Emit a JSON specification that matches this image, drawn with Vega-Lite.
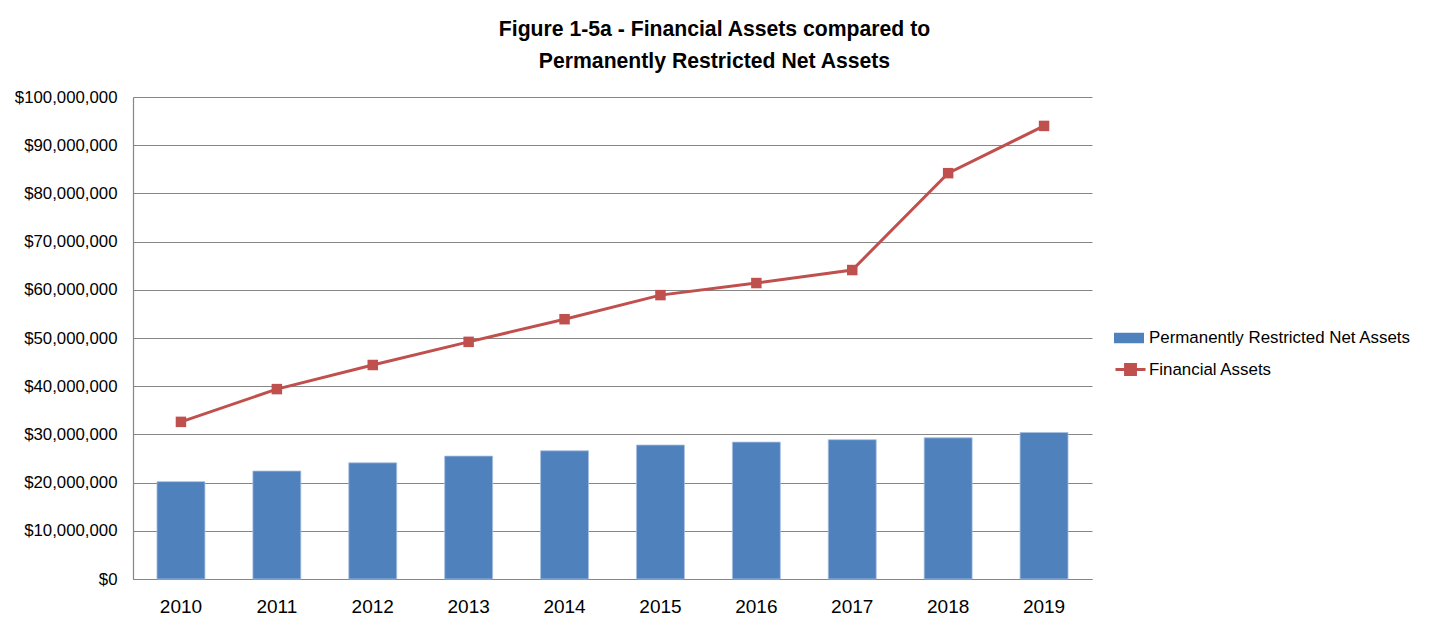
{
  "$schema": "https://vega.github.io/schema/vega-lite/v6.json",
  "width": 959,
  "height": 482,
  "autosize": {"type": "none"},
  "padding": {"left": 133, "top": 97, "right": 338, "bottom": 47},
  "background": "white",
  "title": {
    "text": ["Figure 1-5a - Financial Assets compared to", "Permanently Restricted Net Assets"],
    "font": "Liberation Sans",
    "fontSize": 21.2,
    "fontWeight": "bold",
    "color": "#000000",
    "anchor": "middle",
    "dx": 102,
    "offset": 17,
    "lineHeight": 32
  },
  "config": {
    "view": {"stroke": null},
    "font": "Liberation Sans",
    "axis": {"labelFont": "Liberation Sans", "labelColor": "#000000"},
    "legend": {"labelFont": "Liberation Sans", "labelColor": "#000000", "labelLimit": 400}
  },
  "data": {
    "values": [
      {"year": "2010", "prna": 20200000, "fa": 32600000},
      {"year": "2011", "prna": 22400000, "fa": 39400000},
      {"year": "2012", "prna": 24100000, "fa": 44400000},
      {"year": "2013", "prna": 25500000, "fa": 49200000},
      {"year": "2014", "prna": 26600000, "fa": 53900000},
      {"year": "2015", "prna": 27800000, "fa": 58900000},
      {"year": "2016", "prna": 28400000, "fa": 61400000},
      {"year": "2017", "prna": 28900000, "fa": 64100000},
      {"year": "2018", "prna": 29300000, "fa": 84200000},
      {"year": "2019", "prna": 30400000, "fa": 94000000}
    ]
  },
  "encoding": {
    "x": {
      "field": "year",
      "type": "ordinal",
      "scale": {"paddingInner": 0.5, "paddingOuter": 0.25},
      "axis": {
        "title": null,
        "labelAngle": 0,
        "labelFontSize": 19,
        "ticks": false,
        "labelPadding": 18,
        "domainColor": "#868686",
        "domainWidth": 1.2
      }
    }
  },
  "layer": [
    {
      "mark": {"type": "bar", "stroke": "#a8c0e0", "strokeWidth": 0.8},
      "encoding": {
        "y": {
          "field": "prna",
          "type": "quantitative",
          "scale": {"domain": [0, 100000000]},
          "axis": {
            "title": null,
            "values": [0, 10000000, 20000000, 30000000, 40000000, 50000000, 60000000, 70000000, 80000000, 90000000, 100000000],
            "format": "$,.0f",
            "labelFontSize": 16.8,
            "ticks": false,
            "labelPadding": 16,
            "grid": true,
            "gridColor": "#868686",
            "gridWidth": 1.2,
            "domainColor": "#868686",
            "domainWidth": 1.2
          }
        },
        "fill": {
          "datum": "Permanently Restricted Net Assets",
          "scale": {"range": ["#4F81BD"]},
          "legend": {
            "title": null,
            "orient": "none",
            "legendX": 981,
            "legendY": 226,
            "padding": 0,
            "symbolType": "M-1,-0.35H1V0.35H-1Z",
            "symbolSize": 900,
            "symbolStrokeWidth": 0,
            "labelFontSize": 16.9,
            "labelOffset": 5
          }
        }
      }
    },
    {
      "mark": {"type": "line", "strokeWidth": 3},
      "encoding": {
        "y": {"field": "fa", "type": "quantitative"},
        "stroke": {
          "datum": "Financial Assets",
          "scale": {"range": ["#C0504D"]},
          "legend": {
            "title": null,
            "orient": "none",
            "legendX": 981,
            "legendY": 256,
            "padding": 0,
            "symbolType": "M-1,0H1M-0.33,-0.33H0.33V0.33H-0.33Z",
            "symbolSize": 900,
            "symbolStrokeWidth": 3,
            "symbolFillColor": "#C0504D",
            "labelFontSize": 16.9,
            "labelOffset": 2
          }
        }
      }
    },
    {
      "mark": {"type": "point", "shape": "square", "filled": true, "size": 110, "color": "#C0504D", "opacity": 1},
      "encoding": {
        "y": {"field": "fa", "type": "quantitative"}
      }
    }
  ]
}
